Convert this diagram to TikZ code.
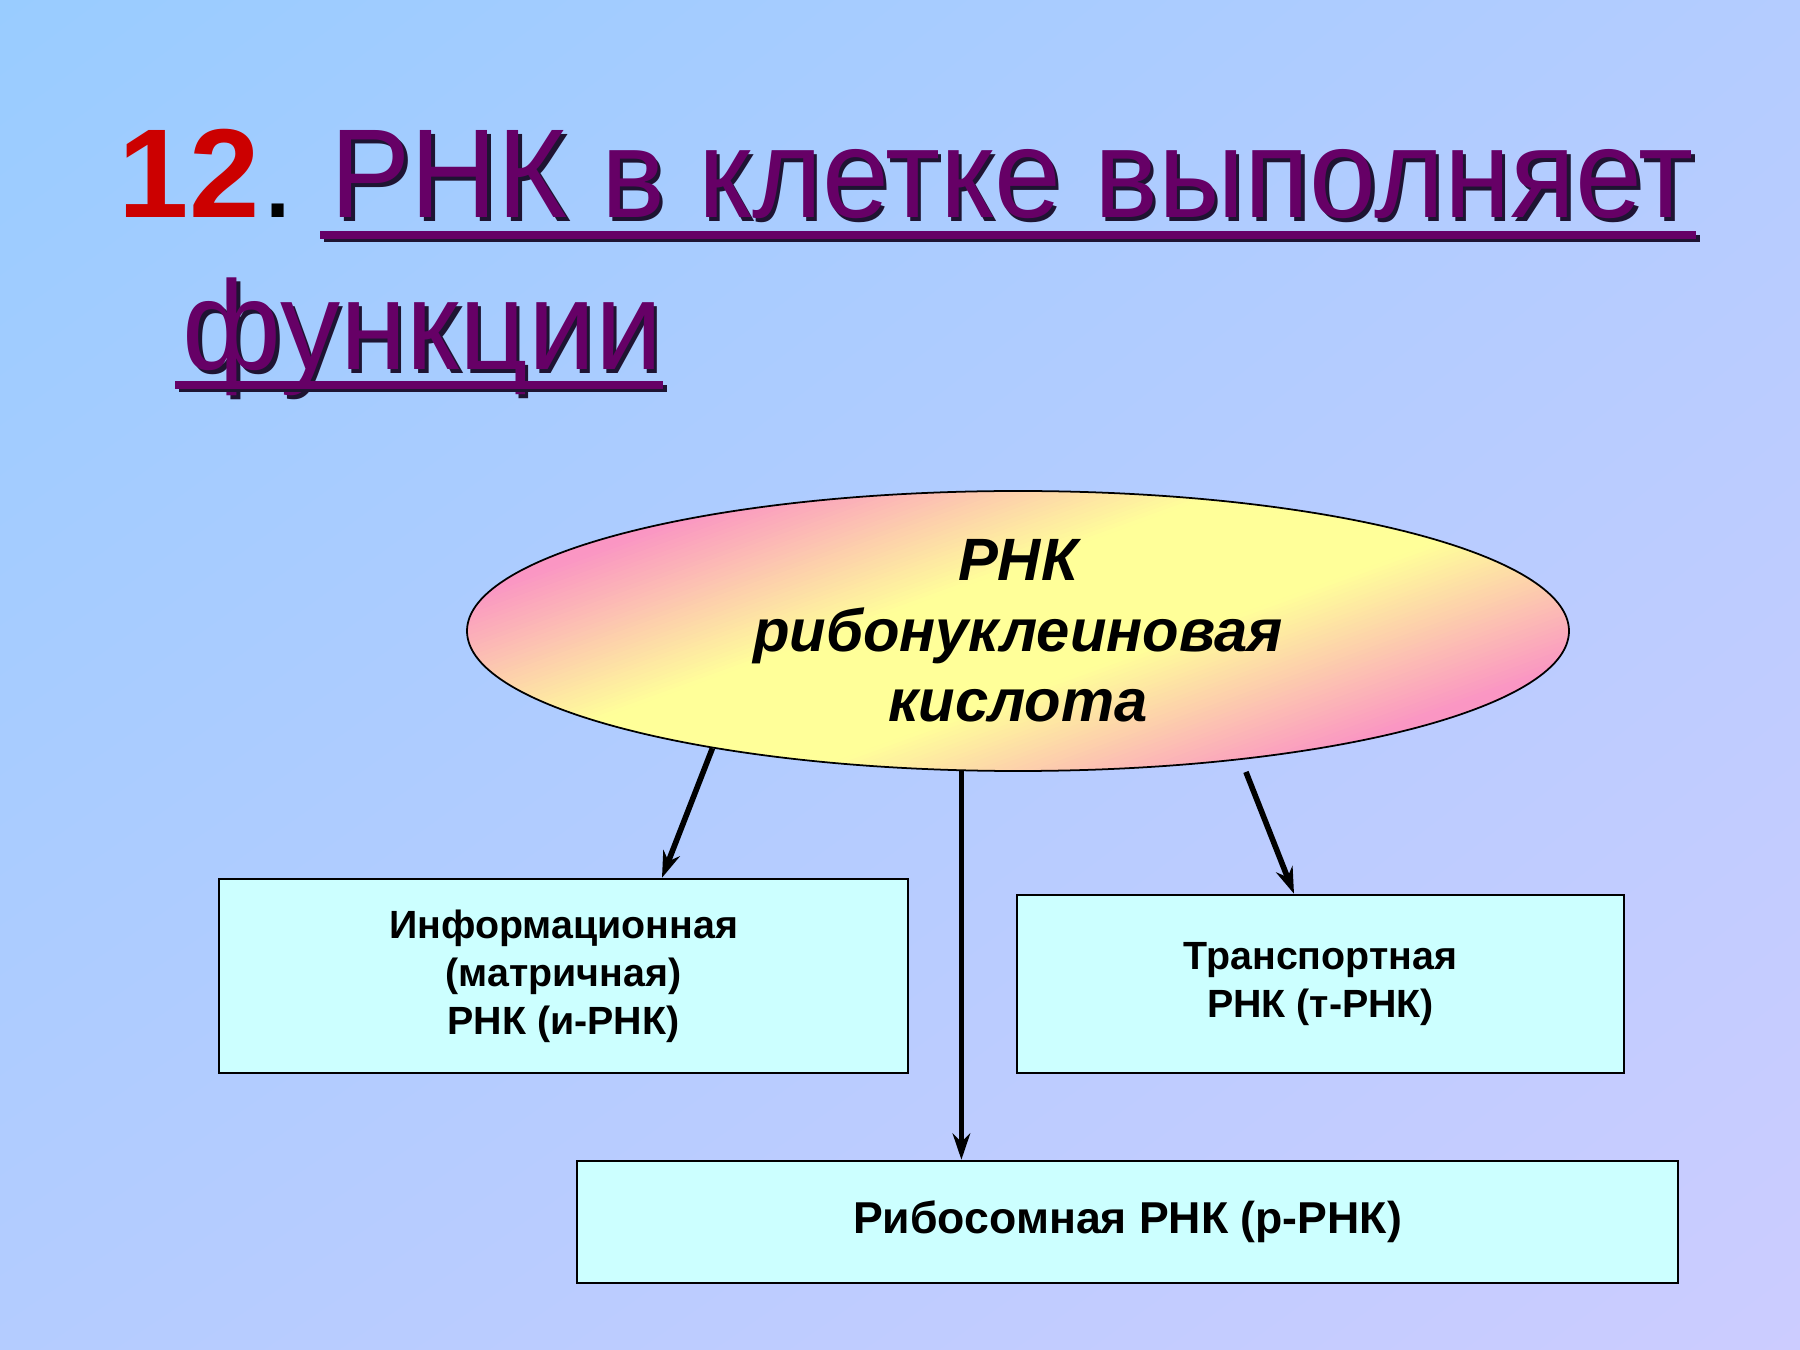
\documentclass[tikz,border=0pt]{standalone}
\usepackage{fontspec}
\setmainfont{Liberation Sans}
\usetikzlibrary{arrows.meta,shapes.geometric,shadings}
\definecolor{rosso}{RGB}{204,0,0}
\definecolor{viola}{RGB}{102,0,102}
\definecolor{ombra}{RGB}{30,20,50}
\definecolor{cielo}{RGB}{153,204,255}
\definecolor{mezzo}{RGB}{180,204,255}
\definecolor{lilla}{RGB}{204,204,255}
\definecolor{ciano}{RGB}{204,255,255}
\definecolor{giallo}{RGB}{255,255,153}
\definecolor{rosa}{RGB}{250,150,195}
\newcommand{\stretto}[1]{\scalebox{0.95}[1]{#1}}
\tikzstyle{schema}=[
    titolo/.style={font={\fontsize{36}{43}\selectfont},anchor=base west,inner sep=0pt},
    sottolinea/.style={line width=2.2pt},
    ovale/.style={ellipse,draw,line width=0.5pt,
        minimum width=11.02cm,minimum height=2.8cm,inner sep=0pt,align=center,font={\fontsize{17}{20}\selectfont\bfseries\itshape}},
    casella/.style={rectangle,draw,line width=0.7pt,fill=ciano,inner sep=0pt,align=center,font={\fontsize{11.2}{13.7}\selectfont\bfseries}},
    freccia/.style={-{Stealth[length=7.5pt,width=5pt]},line width=1.6pt},
]

\begin{document}
\begin{tikzpicture}[schema]

    \useasboundingbox (0,0) rectangle (18,13.5);
    \shade[upper left=cielo,upper right=mezzo,lower left=mezzo,lower right=lilla] (0,0) rectangle (18,13.5);

    % titolo
    \node[titolo,text=rosso,font={\fontsize{36}{43}\selectfont\bfseries}] (num) at (1.18,11.32) {12};
    \node[titolo] (punto) at (num.base east) {.};
    \node[titolo,text=ombra] (riga1s) at (3.335,11.285) {\stretto{РНК в клетке выполняет}};
    \node[titolo,text=viola] (riga1) at (3.30,11.32) {\stretto{РНК в клетке выполняет}};
    \draw[sottolinea,ombra] ([shift={(-0.065,-0.205)}]riga1.base west) -- ([shift={(0.055,-0.205)}]riga1.base east);
    \draw[sottolinea,viola] ([shift={(-0.10,-0.17)}]riga1.base west) -- ([shift={(0.02,-0.17)}]riga1.base east);

    \node[titolo,text=ombra] (riga2s) at (1.855,9.765) {\stretto{функции}};
    \node[titolo,text=viola] (riga2) at (1.82,9.80) {\stretto{функции}};
    \draw[sottolinea,ombra] ([shift={(-0.035,-0.185)}]riga2.base west) -- ([shift={(0.035,-0.185)}]riga2.base east);
    \draw[sottolinea,viola] ([shift={(-0.07,-0.15)}]riga2.base west) -- ([shift={(0,-0.15)}]riga2.base east);

    % schema
    \coordinate (centro) at (10.18,7.19);
    % strisce di colore dentro l'ovale
    \begin{scope}
        \clip (centro) ellipse [x radius=5.51, y radius=1.40];
        \begin{scope}[shift={(centro)},rotate=-70]
        \foreach \i in {0,...,119}{
            \pgfmathsetmacro{\sx}{-2.4+\i*0.04}
            \pgfmathsetmacro{\pk}{100*min(1,max(0,(abs(\sx+0.02)-0.6)/1.6))}
            \fill[rosa!\pk!giallo] (\sx,-7) rectangle ++(0.05,14);
        }
        \end{scope}
    \end{scope}
    \node[ovale] (rna) at (centro) {РНК\\рибонуклеиновая\\кислота};

    \node[casella,minimum width=6.89cm,minimum height=1.94cm] (info) at (5.635,3.74) {Информационная\\(матричная)\\РНК (и-РНК)};
    \node[casella,minimum width=6.07cm,minimum height=1.78cm] (trna) at (13.205,3.66) {Транспортная\\РНК (т-РНК)};
    \node[casella,minimum width=11.01cm,minimum height=1.22cm,font={\fontsize{12.7}{15}\selectfont\bfseries}] (ribo) at (11.275,1.28) {Рибосомная РНК (р-РНК)};

    \draw[freccia] (rna.201) -- ([xshift=0.985cm]info.north);
    \draw[freccia] (rna.248) -- (rna.248 |- ribo.north);
    \draw[freccia,shorten <=0.13cm] (rna.330) -- ([xshift=-0.265cm]trna.north);

\end{tikzpicture}
\end{document}
